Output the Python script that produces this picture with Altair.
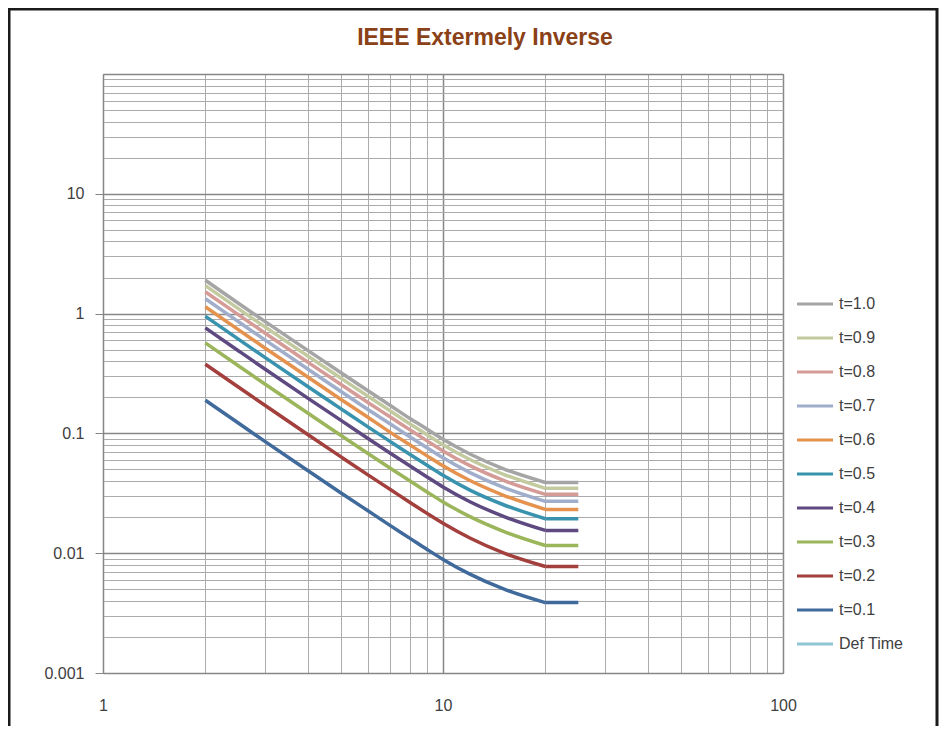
import altair as alt
import pandas as pd

chart_title = "IEEE Extermely Inverse"

# x positions (multiples of pickup)
multiples = [2, 2.5, 3, 4, 5, 6, 7, 8, 9, 10, 12, 15, 20, 25]

# operating times
t10 = [1.90, 1.22, 0.857, 0.493, 0.322, 0.228, 0.171, 0.133, 0.108, 0.0893, 0.0673, 0.0509, 0.0389, 0.0389]
t09 = [1.71, 1.10, 0.772, 0.443, 0.290, 0.205, 0.154, 0.120, 0.0970, 0.0804, 0.0605, 0.0458, 0.0348, 0.0348]
t08 = [1.52, 0.980, 0.686, 0.394, 0.257, 0.182, 0.137, 0.107, 0.0862, 0.0714, 0.0538, 0.0407, 0.0310, 0.0310]
t07 = [1.33, 0.857, 0.600, 0.345, 0.225, 0.159, 0.120, 0.0934, 0.0754, 0.0625, 0.0471, 0.0356, 0.0271, 0.0271]
t06 = [1.14, 0.735, 0.514, 0.296, 0.193, 0.137, 0.102, 0.0800, 0.0646, 0.0536, 0.0404, 0.0306, 0.0232, 0.0232]
t05 = [0.95, 0.612, 0.429, 0.246, 0.161, 0.114, 0.0854, 0.0667, 0.0539, 0.0447, 0.0336, 0.0255, 0.0194, 0.0194]
t04 = [0.76, 0.490, 0.343, 0.197, 0.129, 0.0911, 0.0683, 0.0534, 0.0431, 0.0357, 0.0269, 0.0204, 0.0155, 0.0155]
t03 = [0.57, 0.367, 0.257, 0.148, 0.0965, 0.0683, 0.0512, 0.0400, 0.0323, 0.0268, 0.0202, 0.0153, 0.0116, 0.0116]
t02 = [0.378, 0.244, 0.171, 0.0980, 0.0640, 0.0453, 0.0340, 0.0265, 0.0214, 0.0178, 0.0134, 0.0101, 0.00774, 0.00774]
t01 = [0.189, 0.122, 0.0853, 0.0490, 0.0320, 0.0227, 0.0170, 0.0133, 0.0107, 0.00888, 0.00669, 0.00506, 0.00387, 0.00387]

series_names = ["t=1.0", "t=0.9", "t=0.8", "t=0.7", "t=0.6", "t=0.5",
                "t=0.4", "t=0.3", "t=0.2", "t=0.1", "Def Time"]
series_colors = ["#A5A5A5", "#C4CA9F", "#D59B97", "#A0ADCB", "#E5924E", "#3A93AE",
                 "#5E4A80", "#9BB55A", "#A33F3C", "#3F6A9B", "#8FC6D6"]

# axis tick values / labels
x_grid = [1, 2, 3, 4, 5, 6, 7, 8, 9, 10, 20, 30, 40, 50, 60, 70, 80, 90, 100]
x_labels = ["1", "10", "100"]
y_grid = [0.001, 0.002, 0.003, 0.004, 0.005, 0.006, 0.007, 0.008, 0.009,
          0.01, 0.02, 0.03, 0.04, 0.05, 0.06, 0.07, 0.08, 0.09,
          0.1, 0.2, 0.3, 0.4, 0.5, 0.6, 0.7, 0.8, 0.9,
          1, 2, 3, 4, 5, 6, 7, 8, 9,
          10, 20, 30, 40, 50, 60, 70, 80, 90, 100]
y_labels = ["0.001", "0.01", "0.1", "1", "10"]
majors = [0.001, 0.01, 0.1, 1, 10, 100]

series_values = [t10, t09, t08, t07, t06, t05, t04, t03, t02, t01]
n_curve = multiples.index(20)  # curved part ends at 20, flat part 20..25
rows = []
for name, vals in zip(series_names, series_values):
    for i, (m, v) in enumerate(zip(multiples, vals)):
        rows.append({"series": name, "m": m, "t": v, "i": i,
                     "curve": i <= n_curve, "flat": i >= n_curve})
df = pd.DataFrame(rows)

W, H = 680, 599
PAD = {"left": 95, "top": 66, "right": 160, "bottom": 53}


def js_list(vals, quote=False):
    if quote:
        return "[" + ",".join("'" + v + "'" for v in vals) + "]"
    return "[" + ",".join(repr(v) for v in vals) + "]"


major_test = "indexof(" + js_list(majors) + ", datum.value) >= 0"
grid_color = {"condition": {"test": major_test, "value": "#868686"}, "value": "#ABABAB"}
grid_width = {"condition": {"test": major_test, "value": 1.5}, "value": 1}

x_axis = alt.Axis(
    values=x_grid,
    format="~g",
    labelExpr="indexof(" + js_list(x_labels, True) + ", datum.label) >= 0 ? datum.label : ''",
    grid=True,
    gridColor=grid_color,
    gridWidth=grid_width,
    ticks=False,
    domainColor="#868686",
    labelPadding=24,
    labelFontSize=16,
    labelFont="Liberation Sans",
    labelColor="#404040",
    labelFlush=False,
    labelOverlap=False,
    title=None,
)
y_axis = alt.Axis(
    values=y_grid,
    format="~g",
    labelExpr="indexof(" + js_list(y_labels, True) + ", datum.label) >= 0 ? datum.label : ''",
    grid=True,
    gridColor=grid_color,
    gridWidth=grid_width,
    ticks=True,
    tickSize=8,
    tickColor="#868686",
    tickOpacity={"condition": {"test": "indexof(" + js_list(majors[:-1]) + ", datum.value) >= 0", "value": 1}, "value": 0},
    domainColor="#868686",
    labelPadding=11,
    labelFontSize=16,
    labelFont="Liberation Sans",
    labelColor="#404040",
    labelFlush=False,
    labelOverlap=False,
    title=None,
)

x_enc = alt.X("m:Q", scale=alt.Scale(type="log", domain=[1, 100]), axis=x_axis)
y_enc = alt.Y("t:Q", scale=alt.Scale(type="log", domain=[0.001, 100]), axis=y_axis)
color_enc = alt.Color(
    "series:N",
    scale=alt.Scale(domain=series_names, range=series_colors),
    legend=alt.Legend(
        title=None,
        orient="none",
        legendX=692,
        legendY=210,
        symbolType="stroke",
        symbolSize=1300,
        symbolStrokeWidth=3,
        labelFontSize=16,
        labelFont="Liberation Sans",
        labelColor="#404040",
        labelOffset=4,
        rowPadding=6,
    ),
)

base = alt.Chart(df)
curves = base.transform_filter("datum.curve").mark_line(
    strokeWidth=3.5, interpolate="monotone"
).encode(x=x_enc, y=y_enc, color=color_enc, order=alt.Order("i:Q"))
flats = base.transform_filter("datum.flat").mark_line(
    strokeWidth=3.5, interpolate="linear"
).encode(x=x_enc, y=y_enc, color=color_enc, order=alt.Order("i:Q"))

frame = alt.Chart(alt.Data(values=[{}])).mark_rect(
    fillOpacity=0, stroke="#1A1A1A", strokeWidth=3
).encode(
    x=alt.value(-94), x2=alt.value(834), y=alt.value(-65), y2=alt.value(654)
)

title_mark = alt.Chart(alt.Data(values=[{"label": chart_title}])).mark_text(
    font="Liberation Sans", fontSize=23, fontWeight="bold", color="#8A4117",
    align="center", baseline="alphabetic"
).encode(
    x=alt.value(382), y=alt.value(-29), text="label:N"
)

chart = alt.layer(curves, flats, frame, title_mark).properties(
    width=W,
    height=H,
    padding=PAD,
    autosize=alt.AutoSizeParams(type="none"),
).configure_view(stroke="#868686", strokeWidth=1)

chart.save("out.html", embed_options={"renderer": "svg", "actions": False})
